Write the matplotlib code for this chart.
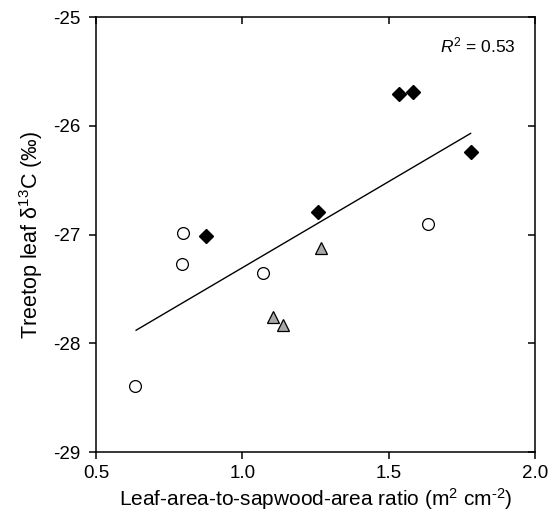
import matplotlib.pyplot as plt

plt.rcParams["font.family"] = ["Liberation Sans", "DejaVu Sans"]
plt.rcParams["mathtext.fontset"] = "custom"
plt.rcParams["mathtext.rm"] = "Liberation Sans"
plt.rcParams["mathtext.it"] = "Liberation Sans:italic"

# open circles
circle_x = [0.797, 0.794, 1.071, 0.633, 1.634]
circle_y = [-26.99, -27.27, -27.35, -28.39, -26.90]
# filled diamonds
diamond_x = [0.876, 1.258, 1.535, 1.583, 1.781]
diamond_y = [-27.01, -26.79, -25.71, -25.69, -26.24]
# grey triangles
triangle_x = [1.104, 1.139, 1.269]
triangle_y = [-27.76, -27.83, -27.12]
# regression line end points
fit_x = [0.637, 1.780]
fit_y = [-27.88, -26.07]

x_ticks = [0.5, 1.0, 1.5, 2.0]
y_ticks = [-29, -28, -27, -26, -25]


def build_figure():
    fig = plt.figure(figsize=(5.55, 5.14), dpi=100, facecolor="white")
    ax = fig.add_axes([0.173, 0.1206, 0.791, 0.8463])

    ax.plot(fit_x, fit_y, color="black", linewidth=1.0, zorder=2)
    ax.plot(circle_x, circle_y, "o", markersize=8.5, markerfacecolor="white",
            markeredgecolor="black", markeredgewidth=0.9, zorder=3)
    ax.plot(diamond_x, diamond_y, "D", markersize=7, markerfacecolor="black",
            markeredgecolor="black", zorder=3)
    ax.plot(triangle_x, triangle_y, "^", markersize=9, markerfacecolor="#a8a8a8",
            markeredgecolor="black", markeredgewidth=0.9, zorder=3)

    ax.set_xlim(0.5, 2.0)
    ax.set_ylim(-29, -25)
    ax.set_xticks(x_ticks)
    ax.set_xticklabels([f"{v:.1f}" for v in x_ticks])
    ax.set_yticks(y_ticks)
    ax.set_yticklabels([f"{v:d}" for v in y_ticks])

    for spine in ax.spines.values():
        spine.set_linewidth(1.1)
    ax.tick_params(axis="both", which="both", direction="out", length=5,
                   width=1.1, labelsize=13.5)
    ax.tick_params(axis="y", pad=6)
    ax.tick_params(axis="x", pad=4)
    ax.tick_params(top=True, right=True)
    # top/right ticks point inward
    for tick in ax.xaxis.get_major_ticks():
        tick.tick2line.set_marker(3)
    for tick in ax.yaxis.get_major_ticks():
        tick.tick2line.set_marker(0)

    ax.set_xlabel(r"Leaf-area-to-sapwood-area ratio (m$^{2}$ cm$^{\text{-2}}$)",
                  fontsize=15, labelpad=3)
    ax.set_ylabel(r"Treetop leaf δ$^{13}$C (‰)", fontsize=15.5, labelpad=6)

    ax.text(0.955, 0.935, r"$\it{R}^{2}$ = 0.53", transform=ax.transAxes,
            ha="right", va="center", fontsize=12.5)
    return fig


fig = build_figure()
fig.savefig("out.png", facecolor=fig.get_facecolor())
